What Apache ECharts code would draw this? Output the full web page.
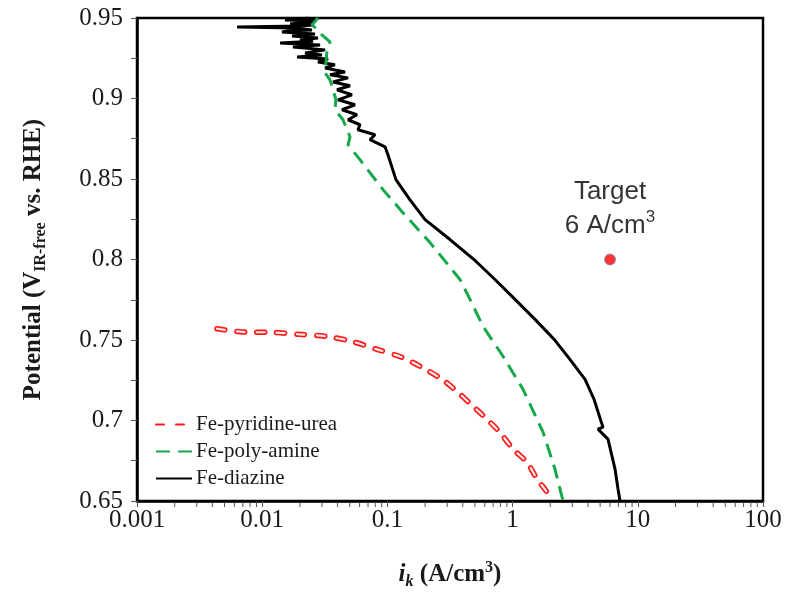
<!DOCTYPE html>
<html>
<head>
<meta charset="utf-8">
<script src="https://cdn.jsdelivr.net/npm/echarts@6/dist/echarts.min.js"></script>
<style>html,body{margin:0;padding:0;background:#fff}#c{width:787px;height:595px}</style>
</head>
<body>
<div id="c"></div>
<script>
const xTickLabels = ['0.001', '0.01', '0.1', '1', '10', '100'];
const yTickLabels = ['0.65', '0.7', '0.75', '0.8', '0.85', '0.9', '0.95'];

const diazineI = [0.0220,0.0275,0.0152,0.0265,0.0241,0.0167,0.0255,0.0200,0.0063,0.0183,0.0250,0.0160,0.0144,0.0264,0.0173,0.0279,0.0200,0.0255,0.0139,0.0290,0.0176,0.0318,0.0220,0.0300,0.0190,0.0336,0.0279,0.0381,0.0318,0.0459,0.0348,0.0485,0.0368,0.0503,0.0396,0.0521,0.0403,0.0551,0.0434,0.0572,0.0485,0.0604,0.0582,0.0796,0.0726,0.0957,0.101,0.108,0.117,0.151,0.200,0.316,0.501,0.723,1.045,1.51,2.18,2.87,3.79,4.47,5.08,5.27,4.81,5.78,6.58,6.95,7.21];
const diazineV = [0.950,0.9494,0.9488,0.9482,0.9475,0.9463,0.9457,0.9450,0.9444,0.9438,0.9426,0.9420,0.9413,0.9401,0.9388,0.9376,0.9364,0.9355,0.9345,0.9333,0.9320,0.9302,0.9283,0.9270,0.9258,0.9246,0.9227,0.9209,0.9190,0.9165,0.9147,0.9128,0.9103,0.9079,0.9054,0.9023,0.8992,0.8961,0.8930,0.8899,0.8868,0.8837,0.8806,0.8775,0.8744,0.8700,0.8651,0.8580,0.8496,0.8372,0.8248,0.8124,0.7994,0.7876,0.7752,0.7628,0.7498,0.7380,0.7256,0.7132,0.6996,0.6959,0.6946,0.6884,0.6698,0.6574,0.6500];

const polyI = [0.0279,0.0250,0.0279,0.0300,0.0348,0.0330,0.0324,0.0318,0.0348,0.0368,0.0388,0.0381,0.0442,0.0476,0.0503,0.0485,0.0521,0.0604,0.0726,0.0922,0.133,0.219,0.380,0.457,0.580,0.838,1.21,1.75,2.18,2.53];
const polyV = [0.950,0.9457,0.9426,0.9395,0.9351,0.9302,0.9240,0.9159,0.9116,0.9054,0.8992,0.8930,0.8868,0.8806,0.8762,0.8713,0.8682,0.8620,0.8539,0.8434,0.8291,0.8105,0.7876,0.7752,0.7585,0.7399,0.7194,0.6928,0.6698,0.6500];

const pyrI = [0.00435,0.00703,0.0122,0.020,0.033,0.052,0.0826,0.131,0.189,0.273,0.366,0.483,0.625,0.79,1.01,1.30,1.57,1.88,1.99];
const pyrV = [0.757,0.755,0.7547,0.7535,0.7522,0.7491,0.7442,0.7392,0.733,0.7256,0.7175,0.7088,0.7008,0.6927,0.6822,0.6741,0.6636,0.6555,0.6512];

const targetI = [6];
const targetV = [0.80];

const decades = [0.001, 0.01, 0.1, 1, 10];
const minorMultipliers = [2, 3, 4, 5, 6, 7, 8, 9];

const zip = (a, b) => a.map((v, i) => [v, b[i]]);
const minorTicks = [];
decades.forEach(d => minorMultipliers.forEach(m => minorTicks.push([d * m, 0.65])));

const serif = "'Liberation Serif', 'Times New Roman', serif";
const sans = "'Liberation Sans', Arial, sans-serif";

const chart = echarts.init(document.getElementById('c'), null, {renderer: 'canvas'});
chart.setOption({
  animation: false,
  backgroundColor: '#fff',
  grid: {left: 137, right: 24, top: 18, bottom: 93, show: true, borderColor: '#000', borderWidth: 2.5, backgroundColor: 'transparent'},
  xAxis: {
    type: 'log', logBase: 10, min: 0.001, max: 100,
    axisLine: {lineStyle: {color: '#000', width: 2.5}},
    axisTick: {show: true, inside: false, length: 6, lineStyle: {color: '#555', width: 1}},
    splitLine: {show: false},
    axisLabel: {
      margin: 7, fontFamily: serif, fontSize: 25, color: '#1a1a1a',
      formatter: v => xTickLabels[Math.round(Math.log10(v)) + 3]
    },
    name: '{b|i}{k|k}{a| (A/cm}{s|3}{a|)}',
    nameLocation: 'middle', nameGap: 59,
    nameTextStyle: {
      rich: {
        a: {fontFamily: serif, fontWeight: 'bold', fontSize: 25, lineHeight: 30, color: '#1a1a1a'},
        b: {fontFamily: serif, fontWeight: 'bold', fontStyle: 'italic', fontSize: 25, lineHeight: 30, color: '#1a1a1a'},
        k: {fontFamily: serif, fontWeight: 'bold', fontStyle: 'italic', fontSize: 16, lineHeight: 14, verticalAlign: 'bottom', color: '#1a1a1a'},
        s: {fontFamily: serif, fontWeight: 'bold', fontSize: 16, lineHeight: 22, verticalAlign: 'top', color: '#1a1a1a'}
      }
    }
  },
  yAxis: {
    type: 'value', min: 0.65, max: 0.95, interval: 0.05,
    axisLine: {show: true, lineStyle: {color: '#000', width: 2.5}},
    axisTick: {show: true, inside: false, length: 6, lineStyle: {color: '#555', width: 1}},
    minorTick: {show: true, splitNumber: 2, length: 6, lineStyle: {color: '#555', width: 1}},
    splitLine: {show: false},
    axisLabel: {
      margin: 14, fontFamily: serif, fontSize: 25, color: '#1a1a1a',
      formatter: v => yTickLabels[Math.round((v - 0.65) / 0.05)]
    },
    name: '{a|Potential (V}{s|IR-free}{a| vs. RHE)}',
    nameLocation: 'middle', nameGap: 88, nameRotate: 90,
    nameTextStyle: {
      rich: {
        a: {fontFamily: serif, fontWeight: 'bold', fontSize: 25, lineHeight: 30, color: '#1a1a1a'},
        s: {fontFamily: serif, fontWeight: 'bold', fontSize: 16, lineHeight: 14, verticalAlign: 'bottom', color: '#1a1a1a'}
      }
    }
  },
  legend: {
    orient: 'vertical', left: 150, top: 409, itemGap: 6, itemWidth: 36, itemHeight: 14,
    data: ['Fe-pyridine-urea', 'Fe-poly-amine', 'Fe-diazine'],
    itemStyle: {color: 'transparent', borderColor: 'transparent', borderWidth: 0, opacity: 0},
    textStyle: {fontFamily: serif, fontSize: 21, lineHeight: 21, color: '#1a1a1a', padding: [0, 0, 0, -1]},
    inactiveColor: '#ccc'
  },
  series: [
    {
      type: 'custom', name: 'minor', silent: true, clip: false, coordinateSystem: 'cartesian2d',
      data: minorTicks,
      renderItem: (params, api) => {
        const p = api.coord([api.value(0), api.value(1)]);
        return {type: 'line', shape: {x1: p[0], y1: p[1] + 1, x2: p[0], y2: p[1] + 6}, style: {stroke: '#555', lineWidth: 1}};
      }
    },
    {
      type: 'line', name: 'Fe-diazine', data: zip(diazineI, diazineV), showSymbol: false, symbol: 'none',
      lineStyle: {color: '#000', width: 3}, itemStyle: {color: '#000'}, z: 3
    },
    {
      type: 'line', name: 'Fe-poly-amine', data: zip(polyI, polyV), showSymbol: false, symbol: 'none',
      lineStyle: {color: '#16a84a', width: 3, type: [14, 8]}, itemStyle: {color: '#16a84a'}, z: 4
    },
    {
      type: 'line', name: 'Fe-pyridine-urea', data: zip(pyrI, pyrV), showSymbol: false, symbol: 'none', smooth: 0.3,
      lineStyle: {color: '#ff1a1a', width: 5.5, type: [8, 12], cap: 'round'}, itemStyle: {color: '#ff1a1a'}, z: 5
    },
    {
      type: 'line', name: 'pyr-inner', data: zip(pyrI, pyrV), showSymbol: false, symbol: 'none', smooth: 0.3,
      lineStyle: {color: '#ffe8e8', width: 2.2, type: [8, 12], cap: 'round'}, z: 6, silent: true
    },
    {
      type: 'scatter', name: 'Target', data: zip(targetI, targetV), symbolSize: 11, z: 7,
      itemStyle: {color: '#ff0000', borderColor: '#6f8fc8', borderWidth: 1},
      label: {
        show: true, position: 'top', distance: 11,
        formatter: '{a|Target}\n{a|6 A/cm}{s|3}',
        rich: {
          a: {fontFamily: sans, fontSize: 26, lineHeight: 34, color: '#000'},
          s: {fontFamily: sans, fontSize: 17, lineHeight: 26, verticalAlign: 'top', color: '#000'}
        }
      }
    }
  ]
});
</script>
</body>
</html>
